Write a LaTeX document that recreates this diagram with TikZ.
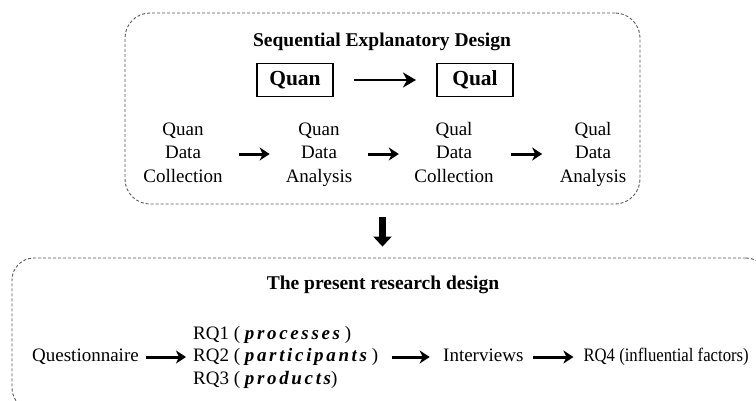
\documentclass[tikz,border=0pt]{standalone}
\usepackage{fontspec}
\setmainfont{Liberation Serif}
\newfontfamily\bifam{Liberation Serif}[LetterSpace=14]
\newfontfamily\condfam{Liberation Serif}[FakeStretch=0.88]
\newcommand{\bi}[1]{{\bifam\bfseries\itshape #1}}
\usetikzlibrary{arrows.meta,calc}
\begin{document}
\begin{tikzpicture}[x=1pt,y=-1pt,
  dashbox/.style={draw=black!65, dash pattern=on 3pt off 2pt, line width=0.9pt, inner sep=0pt},
  txt/.style={font=\fontsize{19}{23.5}\selectfont, align=center, inner sep=0pt},
  rowtxt/.style={font=\fontsize{19}{22.5}\selectfont, inner sep=0pt},
  ttl/.style={font=\fontsize{19.5}{23}\selectfont\bfseries, inner sep=0pt},
  qbox/.style={draw, line width=1.3pt, font=\fontsize{21.5}{24}\selectfont\bfseries, minimum width=76pt, minimum height=33pt, inner sep=0pt},
  fat/.style={line width=3pt, -{Stealth[length=10pt,width=13pt,inset=3pt]}},
  mid/.style={line width=2.7pt, -{Stealth[length=13pt,width=15pt,inset=4pt]}},
  down/.style={line width=7pt, -{Triangle[length=10pt,width=18pt]}}
]
\useasboundingbox (0,0) rectangle (756,400);
\clip (0,0) rectangle (756,400);

% top box
\node[dashbox, rounded corners=25pt, minimum width=515pt, minimum height=191pt] (top) at (382.5,108.5) {};
\node[ttl] (seq) at (382,42) {Sequential Explanatory Design};
\node[qbox] (quan) at (295,80) {Quan};
\node[qbox] (qual) at (475,80) {Qual};
\draw[mid] ($(quan.east)!.5!(qual.west)+(-31,0)$) -- ($(quan.east)!.5!(qual.west)+(31,0)$);

\node[txt] (qdc) at (183,154) {\strut Quan\\\strut Data\\\strut Collection};
\node[txt] (qda) at (319,154) {\strut Quan\\\strut Data\\\strut Analysis};
\node[txt] (ldc) at (454,154) {\strut Qual\\\strut Data\\\strut Collection};
\node[txt] (lda) at (593,154) {\strut Qual\\\strut Data\\\strut Analysis};
\draw[fat] ($(qdc.east)!.5!(qda.west)+(-15.5,0)$) -- ($(qdc.east)!.5!(qda.west)+(15.5,0)$);
\draw[fat] ($(qda.east)!.5!(ldc.west)+(-15.5,0)$) -- ($(qda.east)!.5!(ldc.west)+(15.5,0)$);
\draw[fat] ($(ldc.east)!.5!(lda.west)+(-15.5,0)$) -- ($(ldc.east)!.5!(lda.west)+(15.5,0)$);

% bottom box
\node[dashbox, rounded corners=22pt, minimum width=756pt, minimum height=152pt] (bot) at (390,334) {};
\draw[down, shorten <=13pt, shorten >=11pt] (top.south) -- (top.south |- bot.north);

\node[ttl] (prd) at (383,285) {The present research design};
\node[rowtxt, anchor=west] (ques) at (32,357) {\strut Questionnaire};
\node[rowtxt, anchor=west, align=left] (rqs) at (193,357) {\strut RQ1 ( \bi{processes} )\\\strut RQ2 ( \bi{participants} )\\\strut RQ3 ( \bi{products})};
\node[rowtxt, anchor=west] (intv) at (443,357) {\strut Interviews};
\node[rowtxt, anchor=east] (rq4) at (749,357) {\strut\condfam RQ4 (influential factors)};
\draw[fat] ($(ques.east)!.5!(rqs.west)+(-20,0)$) -- ($(ques.east)!.5!(rqs.west)+(20,0)$);
\draw[fat] ($(rqs.east)!.5!(intv.west)+(-19,0)$) -- ($(rqs.east)!.5!(intv.west)+(19,0)$);
\draw[fat] ($(intv.east)!.5!(rq4.west)+(-20,0)$) -- ($(intv.east)!.5!(rq4.west)+(20,0)$);
\end{tikzpicture}
\end{document}
